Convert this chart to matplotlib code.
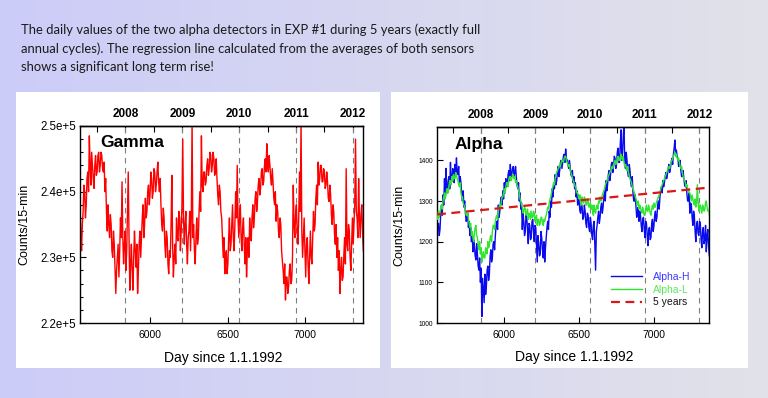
import numpy as np
import matplotlib
matplotlib.use("Agg")
import matplotlib.pyplot as plt
from matplotlib.patches import Rectangle
from matplotlib.ticker import FixedLocator, MultipleLocator, FuncFormatter

plt.rcParams['font.family'] = ['Liberation Sans', 'DejaVu Sans']

# ---------------- data ----------------
start_day = 5552          # first value (day since 1.1.1992)
step_days = 5             # sampling of the values
x_limits = (5552, 7370)

# Gamma counts/15-min, in thousands
gamma_k = [
    238, 234, 231, 235, 237, 241, 240, 236, 238, 242, 243, 240, 248.5, 244, 241, 246,
    244, 242, 240.5, 244, 245.5, 242.5, 243, 245.5, 246, 243, 244, 246, 245.5, 243.5,
    243, 244.5, 240, 242, 237, 234, 238, 235, 233, 236.5, 235, 231, 230, 234, 232, 228,
    224.5, 228, 230, 232, 227, 231, 236, 233, 241.5, 233, 229, 232, 234, 228, 231, 237,
    243, 233, 225, 229, 232, 228, 225, 230, 234, 231, 228.5, 232, 224.5, 228, 232, 234,
    230, 233, 236, 238, 233, 235, 239, 236, 237, 240, 241, 238, 239.5, 243,
    242, 239, 240, 243.5, 243, 240, 241, 243, 244.5, 241.5, 240, 242, 238, 235, 234, 237.5,
    236, 232, 230, 234, 233, 229, 227.5, 231, 230, 235, 242.5, 232, 227, 230, 232, 229,
    236, 233, 232.5, 237, 236, 231, 234, 238, 248, 236, 232, 235, 237, 232, 229, 233,
    234, 237, 231, 236, 251, 233, 235, 231, 229, 233, 236, 232, 233, 237, 240, 237,
    248.5, 241, 240, 243, 243, 241, 241.5, 244, 245, 242.5, 243.5, 246, 245.5, 243, 244, 246,
    245, 242.5, 243, 245, 242, 239.5, 238, 241, 240, 237, 236, 233,
    230, 233, 227.5, 230, 231, 227.5, 229, 233, 236, 231, 232, 235, 238, 233, 231, 235,
    240, 236, 244, 236, 233, 236, 238, 233, 231, 234.5, 236, 232, 229, 233, 227, 231,
    233, 230, 236, 233, 232.5, 236, 238, 234.5, 236, 239, 240, 237, 238.5, 241, 242, 239.5,
    240.5, 243, 243.5, 241, 241.5, 244, 245, 243, 247.3, 244, 243, 245.5, 244, 242, 241, 243.5,
    241.5, 239, 238, 240, 235.5, 238, 237, 234, 233, 236, 235, 231, 229.5, 228, 226, 229,
    223.5, 227, 227, 224.5, 225.5, 228, 229, 226, 226.5, 230, 241, 235,
    233, 236.5, 238, 234, 232, 236, 243, 237, 251, 234, 230, 233, 236, 231, 227, 232,
    233, 229, 226, 230, 234, 230, 229, 233, 237, 234, 235, 239, 241, 238, 244.5, 241,
    242, 244, 244, 241.5, 241.5, 243.5, 243, 240.5, 241, 243, 241.5, 239, 238.5, 241, 239.5, 236.5,
    235, 238, 237, 233.5, 232, 235, 230, 233, 228, 231, 224.5, 228, 230, 226.5, 227, 230.5,
    233, 229, 243.5, 232, 231, 235, 234, 230, 228, 232, 236, 232, 235, 238, 248, 237,
    236, 233, 242, 236, 233, 236.5, 238, 234, 231]

alpha_h = [
    1205, 1240, 1245, 1215, 1230, 1270, 1290, 1265, 1315, 1290, 1355, 1310, 1380, 1335, 1320, 1350,
    1360, 1330, 1395, 1345, 1350, 1380, 1375, 1345, 1390, 1360, 1406, 1370, 1365, 1385, 1340, 1360,
    1345, 1320, 1300, 1325, 1285, 1300, 1270, 1250, 1255, 1270, 1235, 1250, 1215, 1235, 1200, 1220,
    1175, 1205, 1190, 1165, 1155, 1195, 1170, 1140, 1130, 1160, 1100, 1135, 1016, 1110, 1080, 1050,
    1120, 1070, 1090, 1130, 1140, 1105, 1120, 1165, 1180, 1150, 1160, 1195, 1200, 1180, 1215, 1240,
    1250, 1230, 1290, 1260, 1275, 1300, 1310, 1290, 1325, 1305,
    1345, 1320, 1355, 1335, 1340, 1365, 1375, 1350, 1390, 1360, 1365, 1380, 1385, 1360, 1370, 1385,
    1360, 1340, 1330, 1345, 1300, 1320, 1280, 1295, 1230, 1270, 1250, 1215, 1225, 1265, 1260, 1230,
    1195, 1245, 1240, 1205, 1210, 1250, 1255, 1225, 1200, 1240, 1235, 1190, 1150, 1215, 1195, 1165,
    1170, 1225, 1210, 1180, 1160, 1200, 1150, 1185, 1210, 1235, 1250, 1230, 1275, 1260, 1300, 1285,
    1330, 1310, 1345, 1330, 1365, 1340, 1350, 1370, 1385, 1360, 1375, 1395, 1400, 1380, 1395, 1410,
    1415, 1395, 1428, 1405, 1400, 1390, 1380, 1400, 1385, 1365, 1360, 1375,
    1345, 1360, 1330, 1345, 1310, 1325, 1290, 1315, 1300, 1275, 1270, 1295, 1285, 1255, 1260, 1290,
    1275, 1245, 1235, 1270, 1265, 1235, 1225, 1260, 1245, 1215, 1205, 1240, 1250, 1190, 1130, 1225,
    1240, 1260, 1275, 1245, 1260, 1285, 1295, 1270, 1285, 1310, 1325, 1300, 1350, 1325, 1340, 1365,
    1375, 1350, 1365, 1390, 1395, 1370, 1385, 1410, 1405, 1380, 1390, 1420, 1430, 1395, 1395, 1440,
    1475, 1400, 1420, 1460, 1490, 1390, 1380, 1420, 1400, 1370, 1360, 1390, 1375, 1345, 1335, 1360,
    1320, 1300, 1300, 1315, 1285, 1260, 1270, 1285, 1250, 1275,
    1265, 1240, 1225, 1255, 1260, 1230, 1210, 1250, 1245, 1215, 1190, 1230, 1235, 1205, 1210, 1245,
    1255, 1225, 1240, 1265, 1275, 1250, 1260, 1290, 1300, 1280, 1310, 1325, 1335, 1320, 1350, 1335,
    1345, 1360, 1370, 1355, 1365, 1380, 1390, 1370, 1380, 1395, 1405, 1390, 1415, 1430, 1450, 1420,
    1425, 1410, 1405, 1385, 1390, 1400, 1375, 1360, 1360, 1375, 1355, 1340, 1335, 1350, 1320, 1300,
    1300, 1320, 1270, 1295, 1290, 1260, 1240, 1275, 1265, 1225, 1200, 1240, 1250, 1220, 1215, 1250,
    1245, 1205, 1185, 1225, 1235, 1195, 1205, 1240, 1175, 1215, 1230, 1190, 1165]

alpha_l = [
    1265, 1255, 1275, 1260, 1270, 1285, 1290, 1280, 1300, 1310, 1320, 1305, 1315, 1330, 1330, 1320,
    1335, 1350, 1350, 1340, 1360, 1350, 1365, 1355, 1355, 1370, 1365, 1355, 1350, 1340, 1335, 1345,
    1320, 1310, 1310, 1295, 1290, 1285, 1275, 1265, 1265, 1270, 1255, 1245, 1235, 1245, 1215, 1225,
    1210, 1200, 1220, 1235, 1240, 1215, 1210, 1195, 1180, 1200, 1170, 1185, 1150, 1165, 1175, 1160,
    1160, 1185, 1180, 1170, 1200, 1185, 1190, 1210, 1215, 1200, 1225, 1240, 1240, 1230, 1250, 1260,
    1265, 1255, 1275, 1285, 1290, 1280, 1300, 1310, 1310, 1320,
    1330, 1320, 1335, 1345, 1345, 1335, 1350, 1360, 1360, 1350, 1355, 1365, 1365, 1355, 1360, 1345,
    1350, 1340, 1335, 1325, 1320, 1305, 1300, 1290, 1285, 1270, 1275, 1285, 1280, 1265, 1270, 1280,
    1255, 1270, 1265, 1255, 1275, 1260, 1260, 1275, 1270, 1250, 1255, 1265, 1240, 1255, 1255, 1240,
    1245, 1260, 1260, 1245, 1240, 1255, 1250, 1260, 1265, 1275, 1285, 1280, 1295, 1305, 1310, 1320,
    1330, 1335, 1345, 1340, 1355, 1365, 1370, 1375, 1380, 1385, 1390, 1385, 1395, 1400, 1400, 1395,
    1405, 1410, 1410, 1400, 1395, 1390, 1385, 1390, 1375, 1370, 1365, 1355,
    1350, 1345, 1340, 1335, 1330, 1320, 1320, 1310, 1305, 1315, 1300, 1290, 1310, 1300, 1295, 1310,
    1305, 1290, 1290, 1305, 1300, 1285, 1285, 1295, 1280, 1290, 1275, 1265, 1290, 1275, 1270, 1285,
    1290, 1280, 1300, 1295, 1310, 1300, 1305, 1315, 1320, 1325, 1330, 1340, 1345, 1350, 1355, 1360,
    1365, 1370, 1375, 1380, 1385, 1380, 1390, 1395, 1400, 1390, 1395, 1405, 1410, 1400, 1400, 1410,
    1415, 1405, 1400, 1410, 1395, 1385, 1390, 1380, 1375, 1385, 1370, 1360, 1355, 1350, 1345, 1335,
    1330, 1325, 1320, 1310, 1305, 1295, 1290, 1300, 1280, 1290,
    1285, 1275, 1270, 1285, 1275, 1265, 1265, 1280, 1290, 1275, 1275, 1290, 1280, 1270, 1265, 1280,
    1290, 1280, 1295, 1285, 1285, 1295, 1300, 1305, 1310, 1315, 1320, 1330, 1335, 1340, 1345, 1350,
    1355, 1360, 1365, 1370, 1375, 1380, 1385, 1380, 1390, 1395, 1400, 1405, 1410, 1415, 1420, 1410,
    1415, 1405, 1400, 1405, 1395, 1385, 1380, 1385, 1370, 1360, 1355, 1350, 1345, 1335, 1340, 1330,
    1330, 1320, 1320, 1310, 1300, 1315, 1305, 1295, 1290, 1305, 1285, 1295, 1340, 1300, 1275, 1290,
    1290, 1280, 1270, 1290, 1285, 1275, 1280, 1295, 1300, 1285, 1275, 1280, 1265]

trend_days = [5552, 7370]
trend_vals = [1267, 1333]

year_days = [5844, 6210, 6575, 6940, 7305]
year_labels = ['2008', '2009', '2010', '2011', '2012']
halfyear_days = [5662, 6027, 6392, 6757, 7122]

bottom_ticks = [6000, 6500, 7000]
gamma_ticks = [2.2e5, 2.3e5, 2.4e5, 2.5e5]
alpha_ticks = [1000, 1100, 1200, 1300, 1400]

intro = ["The daily values of the two alpha detectors in EXP #1 during 5 years (exactly full",
         "annual cycles). The regression line calculated from the averages of both sensors",
         "shows a significant long term rise!"]

# ---------------- figure ----------------
W, H = 768, 398
fig = plt.figure(figsize=(W / 100, H / 100), dpi=100)

bg = fig.add_axes([0, 0, 1, 1], zorder=-5)
c0 = np.array([0.80, 0.80, 0.975])
c1 = np.array([0.885, 0.885, 0.915])
t = np.linspace(0, 1, 256)[None, :, None]
grad = c0 * (1 - t) + c1 * t
bg.imshow(grad, aspect='auto', extent=[0, 1, 0, 1], transform=bg.transAxes)
bg.set_xlim(0, 1); bg.set_ylim(0, 1)
bg.axis('off')

def px_rect(x0, y0, x1, y1):
    return Rectangle((x0 / W, 1 - y1 / H), (x1 - x0) / W, (y1 - y0) / H,
                     transform=fig.transFigure, facecolor='white', edgecolor='none', zorder=-4)

fig.patches.append(px_rect(16, 92, 380, 368))
fig.patches.append(px_rect(391, 92, 748, 368))

for k, line in enumerate(intro):
    fig.text(21 / W, 1 - (30 + 18.5 * k) / H, line, fontsize=9.35, family=['Lato', 'DejaVu Sans'],
             color='#1a1a1a', va='center', ha='left')

days = start_day + step_days * np.arange(len(gamma_k))
gamma = np.array(gamma_k) * 1000


def style_axes(ax, ylabel_x):
    ax.set_xlim(*x_limits)
    ax.set_xticks(bottom_ticks)
    ax.tick_params(axis='both', which='both', direction='in', width=0.8)
    ax.tick_params(axis='both', which='major', length=4)
    ax.tick_params(axis='both', which='minor', length=2.5)
    ax.tick_params(axis='x', labelsize=7.5, pad=5)
    for s in ax.spines.values():
        s.set_linewidth(1.0)
    for d in year_days:
        ax.axvline(d, color='#7f7f7f', lw=0.8, ls=(0, (5, 4)), zorder=1)
    sec = ax.secondary_xaxis('top')
    sec.set_xticks(year_days, labels=year_labels)
    sec.xaxis.set_minor_locator(FixedLocator(halfyear_days))
    sec.tick_params(axis='x', which='both', direction='in', width=0.8, labelsize=8.5, pad=4)
    sec.tick_params(axis='x', which='major', length=4)
    sec.tick_params(axis='x', which='minor', length=4)
    for lab in sec.get_xticklabels():
        lab.set_fontweight('bold')
    sec.spines['top'].set_linewidth(1.0)
    ax.set_xlabel('Day since 1.1.1992', fontsize=10)
    ax.xaxis.set_label_coords(0.505, -0.14)
    ax.set_ylabel('Counts/15-min', fontsize=9)
    ax.yaxis.set_label_coords(ylabel_x, 0.5)


# ---- Gamma ----
ax1 = fig.add_axes([80 / W, 1 - 323 / H, 283 / W, 197 / H])
ax1.plot(days, gamma, color='#ff0000', lw=1.0, zorder=2)
ax1.set_ylim(2.2e5, 2.5e5)
ax1.set_yticks(gamma_ticks)
ax1.yaxis.set_minor_locator(MultipleLocator(2000))
ax1.yaxis.set_major_formatter(FuncFormatter(lambda v, p: f"{v / 1e5:.1f}e+5"))
style_axes(ax1, -0.175)
ax1.tick_params(axis='y', labelsize=8.3, pad=3)
ax1.text(0.071, 0.915, 'Gamma', transform=ax1.transAxes, fontsize=12.5, fontweight='bold',
         ha='left', va='center')

# ---- Alpha ----
ax2 = fig.add_axes([437 / W, 1 - 323 / H, 272 / W, 196 / H])
ax2.plot(days, alpha_h, color='#0a0aee', lw=1.0, zorder=2, label='Alpha-H')
ax2.plot(days, alpha_l, color='#2de62d', lw=1.0, zorder=3, label='Alpha-L')
ax2.plot(trend_days, trend_vals, color='#dd1515', lw=1.6, ls=(0, (4, 2.5)), zorder=4, label='5 years')
ax2.set_ylim(1000, 1482)
ax2.set_yticks(alpha_ticks)
style_axes(ax2, -0.118)
ax2.tick_params(axis='y', labelsize=4.8, pad=3)
ax2.text(0.066, 0.91, 'Alpha', transform=ax2.transAxes, fontsize=12.5, fontweight='bold',
         ha='left', va='center')
leg = ax2.legend(loc='upper left', bbox_to_anchor=(0.64, 0.26), frameon=False, fontsize=7.5,
                 handlelength=3.0, handletextpad=1.0, labelspacing=0.25, borderpad=0,
                 borderaxespad=0)
for txt, col in zip(leg.get_texts(), ['#3a3aff', '#5ee65e', '#111111']):
    txt.set_color(col)

fig.savefig('out.png', dpi=100)
